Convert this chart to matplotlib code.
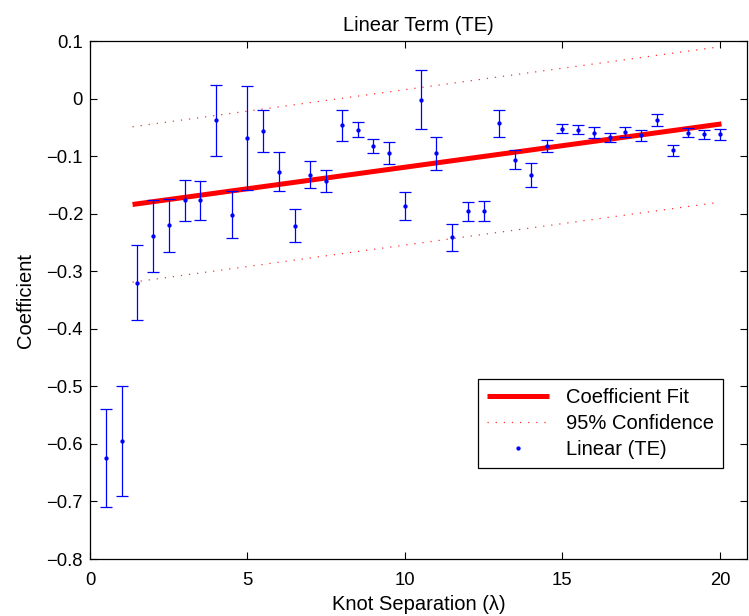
import matplotlib
matplotlib.use('Agg')
import matplotlib.pyplot as plt

# knot separation (lambda) and fitted linear TE coefficient, +/- error
knot_sep = [0.5, 1.0, 1.5, 2.0, 2.5, 3.0, 3.5, 4.0, 4.5, 5.0,
            5.5, 6.0, 6.5, 7.0, 7.5, 8.0, 8.5, 9.0, 9.5, 10.0,
            10.5, 11.0, 11.5, 12.0, 12.5, 13.0, 13.5, 14.0, 14.5, 15.0,
            15.5, 16.0, 16.5, 17.0, 17.5, 18.0, 18.5, 19.0, 19.5, 20.0]
coef = [-0.625, -0.595, -0.320, -0.239, -0.220, -0.177, -0.177, -0.038, -0.202, -0.069,
        -0.056, -0.127, -0.221, -0.132, -0.143, -0.046, -0.054, -0.082, -0.095, -0.187,
        -0.002, -0.095, -0.241, -0.196, -0.195, -0.043, -0.106, -0.133, -0.082, -0.052,
        -0.054, -0.059, -0.067, -0.058, -0.064, -0.037, -0.090, -0.059, -0.062, -0.062]
coef_err = [0.085, 0.095, 0.065, 0.062, 0.046, 0.036, 0.034, 0.061, 0.041, 0.090,
            0.037, 0.034, 0.029, 0.024, 0.019, 0.027, 0.013, 0.012, 0.019, 0.024,
            0.051, 0.029, 0.023, 0.017, 0.017, 0.024, 0.017, 0.021, 0.010, 0.0075,
            0.0075, 0.009, 0.008, 0.009, 0.009, 0.010, 0.0095, 0.0075, 0.008, 0.010]

# fit line and 95% band (end points)
fit_x = [1.35, 20.05]
fit_y = [-0.184, -0.044]
conf_x = [1.35, 20.0]
conf_hi = [-0.049, 0.090]
conf_lo = [-0.319, -0.180]

plt.rcParams['font.family'] = ['Liberation Sans', 'DejaVu Sans']

fig = plt.figure(figsize=(7.49, 6.16), dpi=100)
ax = fig.add_axes([0.1202, 0.0925, 0.8771, 0.8409])

ax.plot(fit_x, fit_y, color='#ff0000', lw=3.6, solid_capstyle='butt',
        label='Coefficient Fit', zorder=2)
ax.plot(conf_x, conf_hi, color='#ff3030', lw=0.9, ls=(0, (1, 5.5)),
        label='95% Confidence', zorder=2)
ax.plot(conf_x, conf_lo, color='#ff3030', lw=0.9, ls=(0, (1, 5.5)), zorder=2)
ax.errorbar(knot_sep, coef, yerr=coef_err, fmt='none', ecolor='#0000ff',
            elinewidth=0.9, capsize=4.3, capthick=0.9, zorder=3)
ax.plot(knot_sep, coef, 'o', color='#0000ff', ms=3.1, mew=0,
        label='Linear (TE)', zorder=4)

ax.set_xlim(0, 20.86)
ax.set_ylim(-0.8, 0.1)
ax.set_xticks([0, 5, 10, 15, 20])
ax.set_yticks([-0.8, -0.7, -0.6, -0.5, -0.4, -0.3, -0.2, -0.1, 0, 0.1])
ax.set_yticklabels(['\u22120.8', '\u22120.7', '\u22120.6', '\u22120.5', '\u22120.4',
                    '\u22120.3', '\u22120.2', '\u22120.1', '0', '0.1'])
ax.tick_params(direction='in', length=5, width=0.8, top=True, right=True,
               labelsize=13.3, pad=5, colors='black')
ax.tick_params(axis='x', pad=9)
for sp in ax.spines.values():
    sp.set_linewidth(0.9)

ax.set_title('Linear Term (TE)', fontsize=14.5, pad=7)
ax.set_xlabel('Knot Separation (\u03bb)', fontsize=14.5, labelpad=5)
ax.set_ylabel('Coefficient', fontsize=14.5, labelpad=8)

leg = ax.legend(loc='lower right', bbox_to_anchor=(0.964, 0.176), borderaxespad=0,
                fontsize=14.5, fancybox=False, framealpha=1, edgecolor='black',
                handlelength=3.1, handletextpad=0.85, labelspacing=0.35,
                borderpad=0.45, markerscale=1.0)
leg.get_frame().set_linewidth(0.9)

fig.savefig('out.png', dpi=100)
